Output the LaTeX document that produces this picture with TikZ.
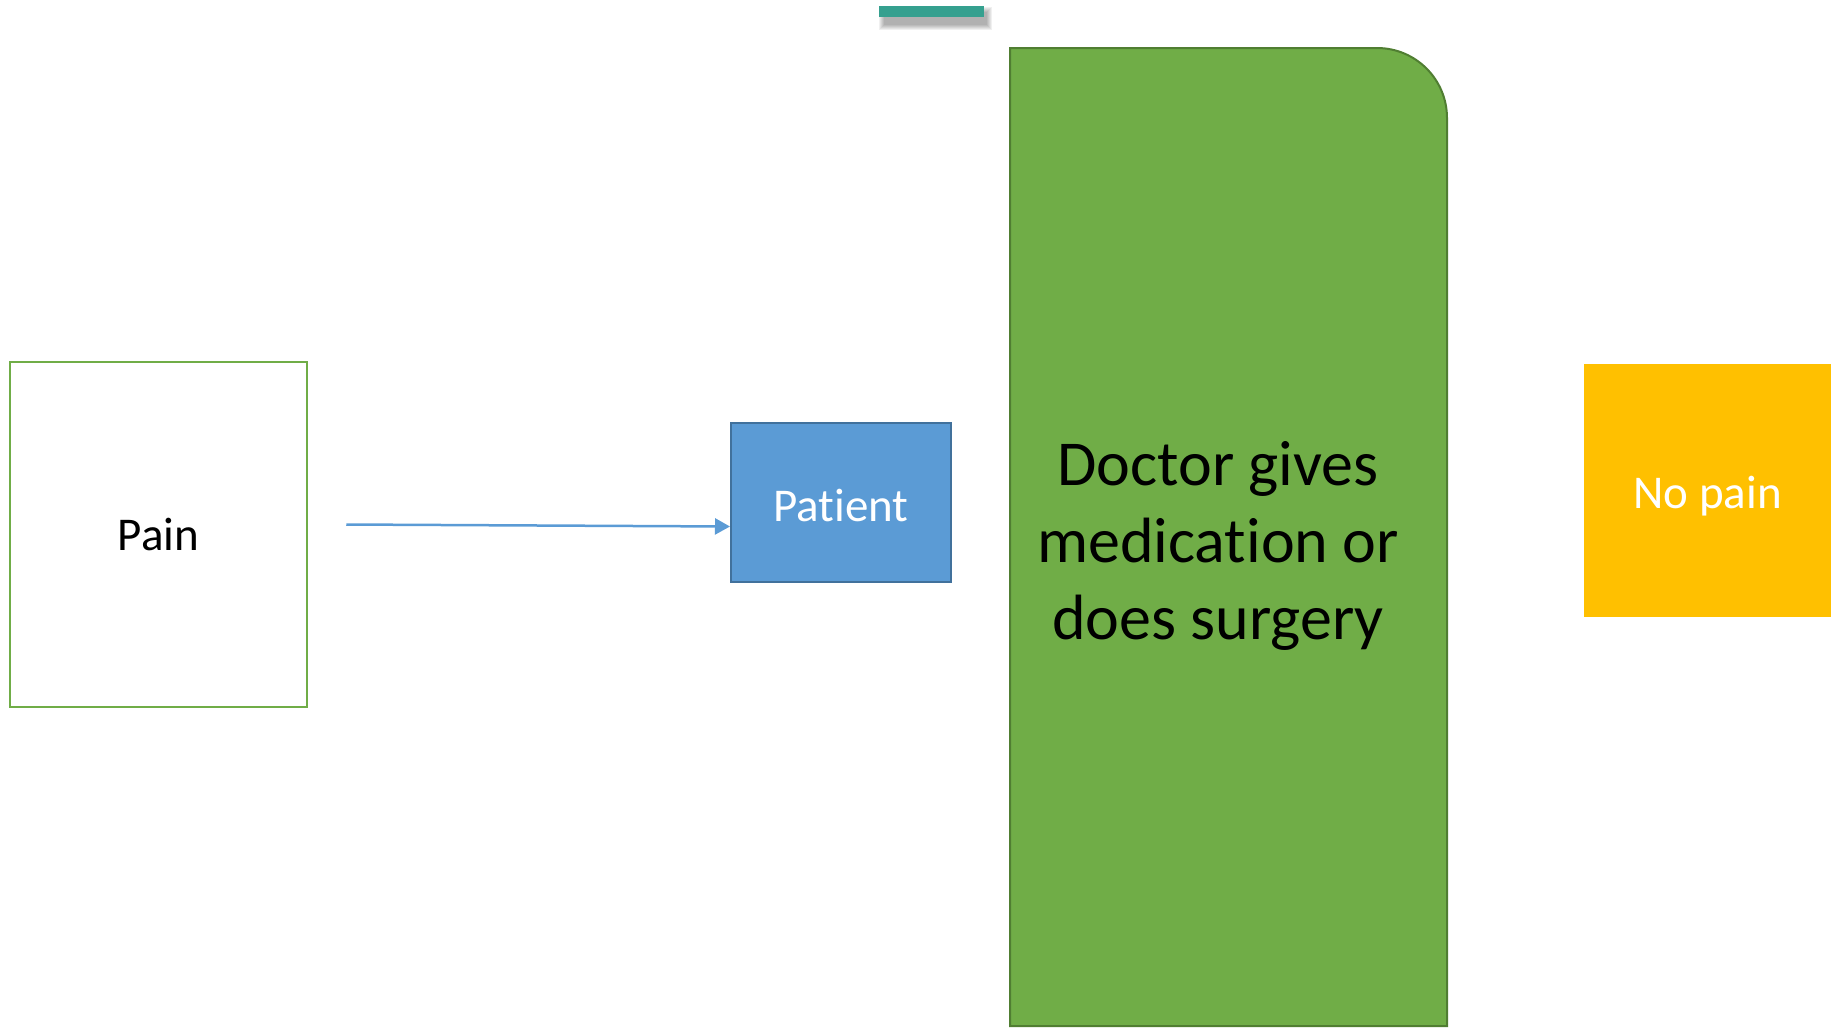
\documentclass[tikz,border=0pt]{standalone}
\usepackage{fontspec}
\setmainfont{Carlito}[Ligatures=NoCommon]
\usetikzlibrary{shapes,arrows,arrows.meta}
\definecolor{painGreen}{HTML}{70AD47}
\definecolor{docEdge}{HTML}{507E32}
\definecolor{patBlue}{HTML}{5B9BD5}
\definecolor{patEdge}{HTML}{41719C}
\definecolor{noGold}{HTML}{FFC000}
\definecolor{barTeal}{HTML}{35A08F}

\begin{document}
\begin{tikzpicture}[x=1pt,y=-1pt,
    block_pain/.style ={rectangle, draw=painGreen, line width=2.5pt, fill=white,
      minimum width=297pt, minimum height=345pt,
      font=\fontsize{47}{56}\selectfont},
    block_patient/.style ={rectangle, draw=patEdge, line width=2pt, fill=patBlue,
      minimum width=220pt, minimum height=159pt, text=white,
      font=\fontsize{47}{56}\selectfont},
    block_nopain/.style ={rectangle, draw=none, fill=noGold,
      minimum width=247pt, minimum height=253pt, text=white,
      font=\fontsize{47}{56}\selectfont},
    block_doctor/.style ={draw=docEdge, line width=2pt, fill=painGreen},
    block_noborder/.style ={rectangle, draw=none, fill=none, align=center,
      font=\fontsize{64}{77}\selectfont},
    line/.style ={draw=patBlue, line width=2.5pt,
      -{Triangle[length=15pt,width=16pt]}}]
    \useasboundingbox (0,0) rectangle (1837,1028);
    % small bar at the top, with a soft shadow under it
    \foreach \s in {0,...,5}
      \fill [black, opacity=0.06] (884-\s,12-\s) rectangle (987+\s,25+\s);
    \node [rectangle, fill=barTeal, minimum width=105pt, minimum height=11pt,
      inner sep=0pt] (bar) at (931.5,11.5) {};
    % the tall doctor block, only one corner rounded
    \path [block_doctor] (1010,1026) |- (1377,48)
      arc [start angle=90, end angle=0, radius=70pt] -- (1447,1026) -- cycle;
    \node [block_noborder] (doctor) at (1218,546) {Doctor gives\\medication or\\does surgery};
    % the boxes
    \node [block_pain] (pain) at (158.5,534.5) {Pain};
    \node [block_patient] (patient) at (841,502.5) {};
    \node [text=white, font=\fontsize{47}{56}\selectfont] (patlabel) at (841,505) {Patient};
    \node [block_nopain] (nopain) at (1707.5,490.5) {};
    \node [text=white, font=\fontsize{47}{56}\selectfont] (nolabel) at (1707.5,496) {No pain};
    % connecting nodes with paths
    \begin{scope}[every path/.style=line]
      \path ([xshift=38pt,yshift=10pt]pain.east) -- ([yshift=-24pt]patient.west);
    \end{scope}
\end{tikzpicture}
\end{document}
